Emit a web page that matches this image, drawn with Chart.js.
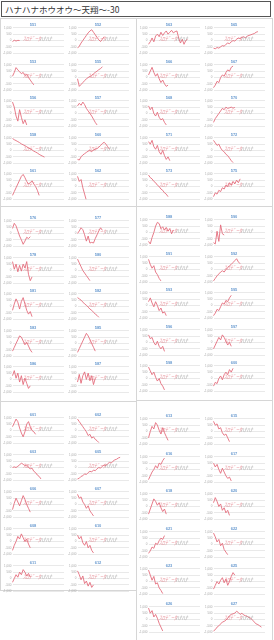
<!DOCTYPE html>
<html>
<head>
<meta charset="utf-8">
<script src="https://cdn.jsdelivr.net/npm/chart.js@4.4.0/dist/chart.umd.min.js"></script>
<style>
  body { margin: 0; background: #fff; width: 274px; height: 640px; overflow: hidden; position: relative;
         font-family: "Noto Sans CJK JP", sans-serif; }
  #title { position: absolute; left: 1px; top: 1px; width: 265px; height: 14px; border: 1px solid #555;
           font-size: 8.5px; line-height: 14px; padding-left: 3px; color: #333; }
  .block { position: absolute; border: 1px solid #d6d6d6; box-sizing: border-box; }
  canvas { position: absolute; }
</style>
</head>
<body>
<div id="title">ハナハナホウオウ〜天翔〜-30</div>

<script>
// x categories: days of the month
const days = ['1','2','3','4','5','6','7','8','9','10','11','12','13','14','15',
              '16','17','18','19','20','21','22','23','24','25','26','27','28','29','30'];

// machine numbers (chart titles), by block
const titlesLA = ['551','552','553','555','556','557','558','560','561','562'];
const titlesRA = ['563','565','566','567','568','570','571','572','573','575'];
const titlesLB = ['576','577','578','580','581','582','583','585','586','587'];
const titlesRB = ['588','590','591','592','593','595','596','597','598','600'];
const titlesLC = ['601','602','603','605','606','607','608','610','611','612'];
const titlesRC = ['613','615','616','617','618','620','621','622','623','625','626','627'];

// y axis [min, max, step] shared by the charts
const rangeStd = [-1000, 1000, 500];

// daily diff values, block by block
const dataLA = [
  [-80, 20, -40, 10, 0],
  [-600, -450, -200, 0, 200, 400, 600, 750, 850, 650, 450, 250, 50, -80, 100, 300],
  [100, 400, 780, 600, 450, 300, 400, 150, 250, 0, -200, -400, -580],
  [-100, -700, -550, -400, -250, -100, 0, 80, 150, 300, 400, 500, 620, 700, 850],
  [900, 500, -200, -600, 300, -300, -800, -500, -900],
  [600, 800, 650, 900, 700, 400, 200, 0, -200, -450, -700, -900],
  [950, 850, 780, 700, 620, 520, 450, 380, 300, 200, 130, 50, -50, -120, -200, -300, -380, -450, -520],
  [-700, -750, -500, -350, -250, -150, -50, 0, -100, 50, 100, 150, 250, 400, 550, 650, 500, 300, 100],
  [-700, -400, -100, 200, 500, 800, 950, 700, 400, 200, 300, 450, 200, 0, -300, -700],
  [800, 400, 550, -100, -600, -1100]
];
const dataRA = [
  [-300, -100, 200, -100, 350, 500, 300, 650, 400, 600, 750, 500, 650, 800, 600, 700, 750, 200, -200, 100, -300, 0, 100],
  [-600, -650, -550, -600, -500, -400, -450, -300, -200, -250, -100, 0, -50, 100, 200, 150, 250, 300, 200, 350, 400, 450, 500, 550, 650, 700],
  [200, 500, 800, 400, 100, 300, -100, -400, -200, -500, -700, -600],
  [-800, -600, -300, -400, 0, 200, 100, 400, 600, 500, 800, 900],
  [600, 300, 500, 0, -200, 100, -300, -500, -400, -700, -900],
  [-700, -400, -200, 0, 200, 400, 300, 500, 400, 450, 500, 420, 480],
  [700, 500, 800, 300, 100, 400, -100, -300, 0, -400, -700, -500, -800],
  [800, 600, 400, 500, 200, 0, -100, -300, -400, -600, -800, -950],
  [900, 700, 600, 400, 300, 100, 0, -200, -300, -500, -600, -800],
  [-800, -500, -600, -300, -400, -100, -200, 100, 0, 300, 100, 400, 200, 500, 300, 600]
];
const dataLB = [
  [400, 800, 600, 200, -200, -500, -850, -600, -300, -400, -250],
  [0, 200, 450, 300, -100, -600, -200, -750, -700, -750, -400, -100, 200, 450, 250],
  [700, 100, 500, -100, 400, -50, 500, 200, 700, -300, -800, -500],
  [900, 600, 300, 0, -200, -400, -600, -800],
  [-300, 200, 600, 300, -200, 400, 700, 200, -300, -600, -400, -800],
  [700, 600, 500, 350, 200, 100, -50, -200, -300, -450, -600, -700, -850],
  [-600, -300, 0, 300, 600, 500, 200, -100, 100, -200, -500, -700],
  [-700, -400, -100, 200, 500, 800, 600, 300, 0, -300, -600],
  [300, 700, 100, 500, -200, 300, -400, 100, -300, -700, -500],
  [-200, 400, -300, 300, 600, 0, 500, -100, 300, -400, 100]
];
const dataRB = [
  [-700, -900, -400, 0, 500, 800, 700, 300, 450, 200, 400, 100, 300, -100, 200],
  [-800, -900, 100, -700, 600, -100, -200],
  [800, 400, 100, 300, -200, -400, -700, -900],
  [-900, -700, -500, -350, -200, -100, -200, 0, 150, 300, 400, 550, 700, 850, 600, 450],
  [300, 600, 200, -100, 300, 0, -400, -200, -600, -500, -800],
  [-800, -600, -300, -400, -100, 200, 100, 400, 300, 600, 800],
  [600, 300, 400, 0, -200, 100, -300, -500, -300, -700],
  [-500, -200, 100, 400, 200, 600, 400, 100, -200, 0, -300],
  [900, 600, 300, 500, 100, -200, 0, -400, -600, -900],
  [-600, -300, -400, 0, 200, -100, 300, 500, 300, 700, 500, 800]
];
const dataLC = [
  [300, 600, 900, 700, 200, -200, -500, -100, 500, 700, 300, 0, -100, -300],
  [900, 700, 500, 300, 100, -100, -400, -300, -600, -500, -700, -800, -950],
  [0, 50, 0, 100, 200, 350, 250, 150, 200, 0, -100, -50, -300, -400, -600, -700, -900],
  [-900, -850, -700, -650, -500, -550, -400, -300, -350, -200, -250, -100, 0, -50, 100, 200, 150, 300, 400, 350, 500, 600, 650, 750, 800],
  [-400, 100, 500, 200, -100, 300, 700, 400, 0, -300, -600],
  [800, 500, 600, 200, 0, -300, -100, -500, -700, -900],
  [-700, -300, 0, 400, 200, 600, 300, 0, 200, -200, -500],
  [500, 200, 400, -100, -300, 0, -500, -300, -700, -900],
  [-300, 0, 300, 100, 500, 300, 700, 500, 200, 400, 100],
  [600, 300, -100, 200, -400, -200, -600, -300, -700, -500]
];
const dataRC = [
  [-500, 0, 400, 200, 700, 500, 100, -200, 300, -100, -400, -700],
  [800, 500, 600, 200, 300, -100, -300, -200, -500, -800],
  [-800, -500, -200, 0, 300, 100, 500, 400, 700, 900],
  [500, 200, 400, 0, -300, 100, -200, -500, -700, -600, -900],
  [-600, -200, 200, 600, 400, 100, 300, -100, -400, -200, -600],
  [300, 700, 400, 0, 200, -300, -100, -500, -300, -700],
  [-700, -500, -200, -300, 100, 0, 300, 500, 400, 700],
  [900, 600, 200, 400, -100, 100, -400, -600, -800],
  [900, 500, 100, 400, -200, -100, -500, -700, -950],
  [-600, -300, 0, -200, 100, 300, -100, 200, -300, 0, 400, 700, 500],
  [900, 500, 700, 200, 400, 100, -300, -600, -900],
  [-900, -800, -600, -500, -350, -200, -150, -50, 100, 300, 400, 450, 500, 650, 550, 400, 500, 350, 300, 250, 150, 100, -50, -200, -350, -400, -500, -600]
];

// watermark drawn across each small chart
const watermark = {
  id: 'watermark',
  afterDatasetsDraw(chart) {
    const { ctx, chartArea } = chart;
    const x = chartArea.left + chartArea.width * 0.2;
    const y = chartArea.top + chartArea.height * 0.42;
    ctx.save();
    ctx.font = 'italic 6px "Noto Sans CJK JP"';
    ctx.textBaseline = 'middle';
    ctx.fillStyle = 'rgba(225, 120, 130, 0.7)';
    ctx.fillText('ｽﾛﾃﾞｰﾀ', x, y);
    ctx.fillStyle = 'rgba(130, 130, 130, 0.6)';
    ctx.fillText('ﾊﾅﾊﾅ', x + 17, y);
    ctx.restore();
  }
};

function makeChart(left, top, title, values) {
  const canvas = document.createElement('canvas');
  canvas.width = 64;
  canvas.height = 35;
  canvas.style.left = left + 'px';
  canvas.style.top = top + 'px';
  document.body.appendChild(canvas);

  new Chart(canvas.getContext('2d'), {
    type: 'line',
    data: {
      labels: days,
      datasets: [{
        data: values,
        borderColor: 'rgba(228, 110, 125, 0.9)',
        borderWidth: 1,
        pointRadius: 0,
        tension: 0
      }]
    },
    options: {
      responsive: false,
      animation: false,
      devicePixelRatio: 1,
      layout: { padding: { top: 0, right: 1, bottom: 1, left: 1 } },
      plugins: {
        legend: { display: false },
        tooltip: { enabled: false },
        title: {
          display: true,
          text: title,
          color: '#6a9bd0',
          font: { size: 4 },
          padding: { top: 1, bottom: 1 }
        }
      },
      scales: {
        x: { display: false },
        y: {
          min: rangeStd[0],
          max: rangeStd[1],
          ticks: { stepSize: rangeStd[2], color: '#aaa', font: { size: 3 }, padding: 1 },
          grid: { color: '#e9e9e9', drawTicks: false },
          border: { display: false }
        }
      }
    },
    plugins: [watermark]
  });
}

function makeBlock(box, firstRow, pitch, titles, series) {
  const div = document.createElement('div');
  div.className = 'block';
  div.style.left = box[0] + 'px';
  div.style.top = box[1] + 'px';
  div.style.width = box[2] + 'px';
  div.style.height = box[3] + 'px';
  document.body.appendChild(div);
  series.forEach((values, i) => {
    const col = i % 2, row = Math.floor(i / 2);
    makeChart(box[0] + 1 + col * 65, Math.round(firstRow + row * pitch), titles[i], values);
  });
}

makeBlock([0, 18, 137, 189], 21, 36.5, titlesLA, dataLA);
makeBlock([136, 18, 137, 189], 21, 36.5, titlesRA, dataRA);
makeBlock([0, 206, 137, 196], 214, 36.5, titlesLB, dataLB);
makeBlock([136, 206, 137, 195], 213, 36.5, titlesRB, dataRB);
makeBlock([0, 401, 137, 190], 411, 37, titlesLC, dataLC);
makeBlock([136, 400, 137, 245], 412, 37.6, titlesRC, dataRC);
</script>
</body>
</html>
